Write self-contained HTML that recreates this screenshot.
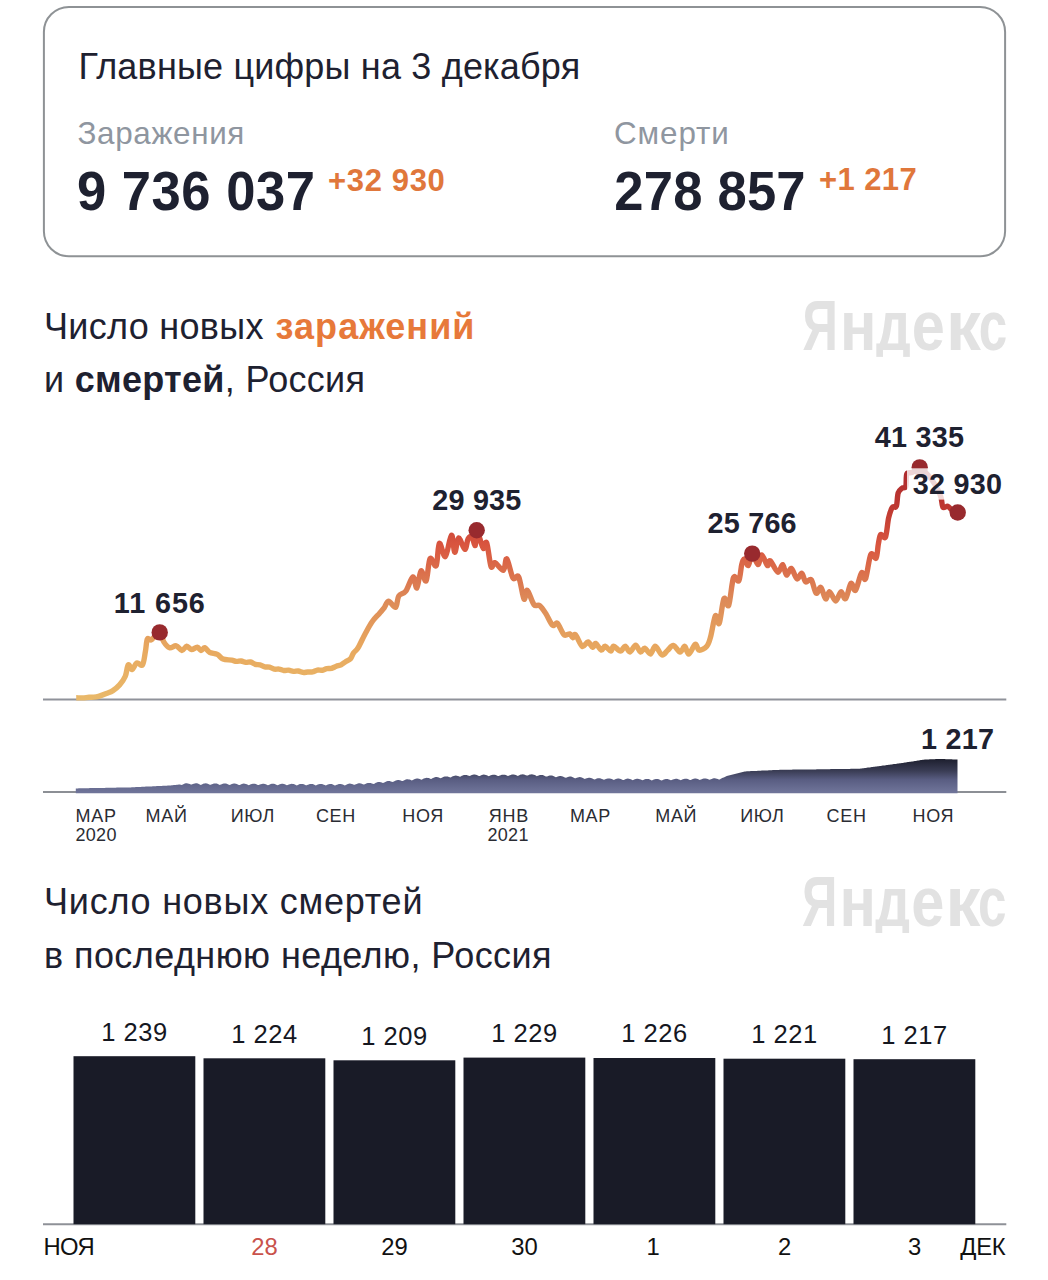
<!DOCTYPE html><html><head><meta charset="utf-8"><style>html,body{margin:0;padding:0;background:#fff;width:1048px;height:1280px;overflow:hidden}svg{display:block}</style></head><body><svg width="1048" height="1280" viewBox="0 0 1048 1280" font-family='"Liberation Sans", sans-serif'>
<defs>
<linearGradient id="lg" gradientUnits="userSpaceOnUse" x1="0" y1="700" x2="0" y2="460">
<stop offset="0" stop-color="#e9b96a"/>
<stop offset="0.208" stop-color="#e8a95f"/>
<stop offset="0.417" stop-color="#dd8a58"/>
<stop offset="0.646" stop-color="#d9553f"/>
<stop offset="0.79" stop-color="#c03a32"/>
<stop offset="1" stop-color="#a8252b"/>
</linearGradient>
<linearGradient id="ag" gradientUnits="userSpaceOnUse" x1="0" y1="757" x2="0" y2="792">
<stop offset="0" stop-color="#181a28"/>
<stop offset="0.4" stop-color="#3a3d55"/>
<stop offset="0.65" stop-color="#595d82"/>
<stop offset="1" stop-color="#6f7499"/>
</linearGradient>
</defs>
<rect width="1048" height="1280" fill="#fff"/>
<rect x="43.9" y="6.9" width="961.2" height="249.4" rx="25" ry="25" fill="#fff" stroke="#8e9295" stroke-width="2"/>
<text x="78.5" y="79" font-size="36" fill="#1e2130" letter-spacing="0.19">Главные цифры на 3 декабря</text>
<text x="77.5" y="144.4" font-size="31.4" fill="#8f96a0" letter-spacing="0.65">Заражения</text>
<text x="0" y="0" transform="translate(77,209.6) scale(1,1.047)" font-size="52.6" font-weight="700" fill="#1e2130" letter-spacing="0.5">9 736 037</text>
<text x="328" y="190.8" font-size="31" font-weight="700" fill="#e0773b" letter-spacing="0.65">+32 930</text>
<text x="614" y="144.4" font-size="31.4" fill="#8f96a0" letter-spacing="0.9">Смерти</text>
<text x="0" y="0" transform="translate(614.3,209.5) scale(1,1.047)" font-size="52.6" font-weight="700" fill="#1e2130" letter-spacing="0.2">278 857</text>
<text x="819" y="190.3" font-size="31" font-weight="700" fill="#e0773b" letter-spacing="0.4">+1 217</text>
<text x="44" y="338.6" font-size="36" fill="#1e2130" letter-spacing="0.3">Число новых <tspan font-weight="700" fill="#e7793a" letter-spacing="1.05" dx="1.5">заражений</tspan></text>
<text x="44" y="392.1" font-size="36" fill="#1e2130" letter-spacing="0.3">и <tspan font-weight="700">смертей</tspan>, Россия</text>
<g fill="#e2e2e2" font-size="70" font-weight="700">
<text x="0" y="0" text-anchor="middle" transform="translate(820.2,349.7) scale(0.703,1)">Я</text>
<text x="0" y="0" text-anchor="middle" transform="translate(858.3,349.7) scale(0.863,1)">н</text>
<text x="0" y="0" text-anchor="middle" transform="translate(893.3,349.7) scale(0.784,1)">д</text>
<text x="0" y="0" text-anchor="middle" transform="translate(928.3,349.7) scale(0.85,1)">е</text>
<text x="0" y="0" text-anchor="middle" transform="translate(963.5,349.7) scale(0.997,1)">к</text>
<text x="0" y="0" text-anchor="middle" transform="translate(992.9,349.7) scale(0.731,1)">с</text>
</g>
<rect x="870" y="356.9" width="45" height="12" fill="#fff"/>
<line x1="43" y1="699.5" x2="1006.3" y2="699.5" stroke="#8f929a" stroke-width="2"/>
<path d="M76.2,697.8 C77.3,697.8 80.5,697.9 82.7,697.9 C84.8,697.8 87.2,697.4 89.1,697.3 C91.0,697.2 92.3,697.3 93.8,697.1 C95.4,697.0 96.5,696.9 98.6,696.3 C100.7,695.7 103.9,694.5 106.3,693.5 C108.7,692.5 110.7,692.0 112.9,690.6 C115.1,689.2 117.5,687.3 119.6,684.9 C121.7,682.5 123.9,679.6 125.3,676.3 C126.7,672.9 127.1,665.9 128.2,664.8 C129.3,663.7 130.6,669.9 132.0,669.6 C133.4,669.3 135.1,663.7 136.8,662.9 C138.6,662.1 141.1,666.7 142.5,664.8 C143.9,662.9 144.6,655.8 145.4,651.5 C146.2,647.2 146.4,641.0 147.3,639.1 C148.2,637.2 150.0,640.3 151.1,640.0 C152.2,639.7 152.6,638.4 154.0,637.2 C155.4,636.0 158.1,631.8 159.7,632.6 C161.3,633.4 162.2,639.4 163.8,641.9 C165.4,644.4 167.4,647.1 169.5,647.7 C171.6,648.4 174.1,645.3 176.2,645.8 C178.3,646.3 180.2,650.4 181.9,650.5 C183.7,650.6 185.1,646.4 186.7,646.2 C188.3,646.1 189.8,649.4 191.5,649.6 C193.2,649.8 195.6,647.1 197.2,647.2 C198.8,647.4 199.7,650.4 201.0,650.5 C202.3,650.6 203.4,647.4 204.8,647.7 C206.2,648.0 207.5,651.3 209.6,652.4 C211.7,653.5 215.1,653.3 217.3,654.4 C219.5,655.5 220.6,658.1 223.0,659.1 C225.4,660.1 229.4,659.7 231.6,660.1 C233.8,660.5 234.8,661.3 236.3,661.4 C237.9,661.6 239.5,660.8 241.1,661.0 C242.7,661.2 244.3,662.2 245.8,662.4 C247.4,662.6 249.0,661.7 250.6,662.0 C252.2,662.3 253.7,663.8 255.3,664.3 C256.9,664.8 258.4,664.4 260.0,664.8 C261.6,665.2 263.2,666.5 264.8,666.9 C266.3,667.3 267.9,666.8 269.5,667.2 C271.1,667.6 272.7,668.7 274.3,669.1 C275.9,669.4 277.5,668.9 279.1,669.1 C280.7,669.3 282.3,670.3 283.9,670.5 C285.4,670.7 287.0,669.9 288.6,670.1 C290.2,670.3 291.8,671.3 293.4,671.4 C295.0,671.6 296.6,670.8 298.2,671.0 C299.8,671.2 301.4,672.2 302.9,672.4 C304.5,672.6 306.1,672.1 307.7,672.0 C309.3,671.9 310.9,672.3 312.5,671.9 C314.1,671.6 315.7,670.4 317.3,670.1 C318.9,669.8 320.5,670.5 322.1,670.2 C323.6,670.0 325.2,668.9 326.8,668.6 C328.4,668.3 330.0,668.7 331.6,668.4 C333.1,668.0 334.7,666.9 336.3,666.3 C337.9,665.7 339.5,665.6 341.1,664.8 C342.7,664.0 344.3,662.5 345.9,661.5 C347.5,660.5 349.3,660.0 350.6,658.6 C351.9,657.2 352.3,654.7 353.5,652.9 C354.7,651.1 356.1,651.1 358.0,647.9 C359.9,644.7 362.8,638.1 365.2,633.7 C367.6,629.3 369.9,624.9 372.3,621.5 C374.7,618.1 377.5,615.6 379.4,613.4 C381.3,611.2 382.4,610.2 383.9,608.2 C385.5,606.2 386.6,601.4 388.5,601.2 C390.4,601.1 393.9,608.1 395.6,607.3 C397.3,606.4 397.0,598.8 398.7,596.1 C400.4,593.4 403.4,594.3 405.8,591.1 C408.2,587.9 411.0,577.4 412.9,576.9 C414.8,576.4 415.5,589.0 416.9,588.0 C418.2,587.0 419.5,572.0 421.0,570.8 C422.5,569.6 424.6,582.9 426.1,580.9 C427.6,578.9 428.4,561.1 430.1,558.6 C431.8,556.1 434.7,568.2 436.2,565.7 C437.7,563.2 437.8,544.9 439.3,543.4 C440.8,541.9 443.4,557.9 445.4,556.5 C447.4,555.1 449.8,535.9 451.4,535.2 C453.0,534.5 453.6,551.8 454.8,552.2 C456.0,552.7 456.9,538.4 458.6,537.9 C460.3,537.4 463.2,549.2 464.8,549.4 C466.4,549.6 466.9,541.0 468.1,538.9 C469.3,536.8 470.7,535.9 471.9,537.0 C473.1,538.1 474.5,546.5 475.3,545.5 C476.1,544.5 476.0,532.3 476.7,531.0 C477.4,529.7 478.5,535.0 479.6,537.9 C480.7,540.8 482.2,547.6 483.4,548.4 C484.6,549.2 485.4,539.7 486.7,542.7 C488.0,545.7 489.6,563.2 491.0,566.5 C492.4,569.8 492.7,562.1 494.8,562.7 C496.9,563.3 501.4,570.9 503.4,570.3 C505.4,569.7 505.2,557.6 506.8,558.9 C508.4,560.2 511.0,575.0 513.0,578.0 C515.0,581.0 516.9,573.5 518.7,577.0 C520.5,580.5 522.6,596.8 524.0,599.0 C525.4,601.2 525.6,589.4 527.3,590.4 C529.0,591.4 531.9,602.2 534.0,604.7 C536.1,607.2 537.7,604.1 539.7,605.6 C541.7,607.1 543.9,610.6 546.0,613.9 C548.1,617.2 550.7,623.7 552.6,625.3 C554.5,626.9 555.5,621.8 557.4,623.4 C559.3,625.0 562.0,633.0 564.1,634.8 C566.2,636.5 568.4,633.4 569.8,633.9 C571.2,634.4 571.8,637.6 572.7,637.7 C573.7,637.9 573.9,633.4 575.5,634.8 C577.1,636.2 580.1,645.1 582.2,646.3 C584.3,647.5 586.2,641.8 588.0,642.0 C589.8,642.2 591.4,647.1 592.7,647.3 C594.0,647.5 594.2,642.9 595.6,643.4 C597.0,643.9 599.7,649.6 601.3,650.1 C602.9,650.6 603.5,646.1 605.1,646.3 C606.7,646.5 609.4,651.1 610.8,651.1 C612.2,651.1 612.1,646.3 613.7,646.3 C615.3,646.3 618.5,651.1 620.4,651.1 C622.3,651.1 623.6,646.1 625.2,646.3 C626.8,646.4 628.2,652.2 629.9,652.0 C631.6,651.8 633.9,645.3 635.6,645.3 C637.4,645.3 638.9,651.5 640.4,652.0 C641.9,652.5 643.1,647.9 644.8,648.2 C646.5,648.5 648.8,654.3 650.5,654.0 C652.2,653.7 653.4,646.1 655.3,646.3 C657.2,646.4 659.9,654.2 662.0,654.9 C664.1,655.5 665.8,651.8 667.7,650.2 C669.6,648.6 671.3,645.1 673.4,645.4 C675.5,645.7 678.2,652.0 680.1,652.1 C682.0,652.2 683.4,646.0 684.8,646.3 C686.2,646.6 687.0,654.3 688.7,654.0 C690.5,653.7 693.5,645.0 695.3,644.4 C697.0,643.8 697.3,649.9 699.2,650.2 C701.1,650.5 704.9,648.5 706.8,646.3 C708.7,644.1 709.2,641.9 710.6,636.8 C712.0,631.7 714.0,618.0 715.4,615.8 C716.8,613.6 717.8,626.3 719.2,623.4 C720.6,620.5 722.4,601.6 724.0,598.6 C725.6,595.6 727.1,608.8 728.7,605.3 C730.3,601.8 731.8,581.7 733.5,577.6 C735.2,573.5 737.4,583.0 738.8,580.8 C740.2,578.6 740.8,568.2 741.7,564.6 C742.7,561.0 743.4,558.8 744.5,558.9 C745.6,559.0 747.1,566.4 748.4,565.5 C749.7,564.6 750.6,553.8 752.2,553.6 C753.8,553.5 756.3,564.4 757.9,564.6 C759.5,564.8 760.1,554.9 761.7,555.0 C763.3,555.1 766.0,564.5 767.4,565.5 C768.8,566.5 768.5,559.7 770.3,560.8 C772.0,561.9 775.8,571.6 777.9,572.2 C780.0,572.8 781.3,564.1 782.7,564.6 C784.1,565.1 785.1,574.5 786.5,575.1 C787.9,575.7 789.5,567.8 791.3,568.4 C793.0,569.0 795.2,578.1 797.0,578.9 C798.8,579.7 800.4,572.7 801.8,573.2 C803.2,573.7 804.0,580.7 805.6,581.8 C807.2,582.9 809.5,577.9 811.3,579.8 C813.0,581.7 814.5,591.9 816.1,593.2 C817.7,594.5 819.3,586.5 820.9,587.5 C822.5,588.5 824.1,598.2 825.6,598.9 C827.1,599.6 827.9,591.4 829.6,591.8 C831.3,592.1 833.8,601.0 835.7,601.0 C837.6,601.0 839.4,592.2 841.0,591.8 C842.6,591.4 843.9,600.1 845.6,598.7 C847.3,597.3 849.4,584.8 851.0,583.4 C852.6,582.0 853.7,592.1 855.5,590.3 C857.3,588.5 859.9,574.6 861.6,572.7 C863.3,570.8 864.0,582.0 865.5,578.9 C867.0,575.8 869.0,557.8 870.8,554.4 C872.6,551.0 874.8,560.0 876.1,558.2 C877.4,556.4 877.6,547.6 878.4,543.7 C879.2,539.8 879.5,535.7 880.7,534.6 C881.9,533.5 884.2,539.8 885.5,537.0 C886.8,534.2 887.5,523.0 888.6,518.0 C889.8,513.0 891.1,509.2 892.4,507.3 C893.7,505.4 895.3,508.7 896.3,506.3 C897.3,503.9 897.2,495.9 898.2,492.9 C899.2,489.9 900.7,489.3 902.0,488.2 C903.3,487.1 905.0,488.7 905.8,486.3 C906.6,483.9 905.8,476.3 906.8,474.0 C907.8,471.7 909.9,473.4 912.0,472.5 C914.1,471.6 917.4,468.4 919.7,468.5 C922.0,468.6 924.0,471.1 926.0,473.0 C928.0,474.9 930.0,477.2 932.0,480.0 C934.0,482.8 936.5,487.1 938.0,490.0 C939.5,492.9 940.3,494.8 941.1,497.7 C941.9,500.6 941.9,505.9 943.0,507.3 C944.1,508.7 946.3,505.9 947.8,506.3 C949.3,506.8 950.4,509.0 952.0,510.0 C953.6,511.0 956.8,512.1 957.7,512.5" fill="none" stroke="url(#lg)" stroke-width="5.4" stroke-linejoin="round" stroke-linecap="butt"/>
<circle cx="159.7" cy="632.4" r="8.2" fill="#982a2e"/>
<circle cx="476.7" cy="530.3" r="8.2" fill="#982a2e"/>
<circle cx="752.2" cy="553.6" r="8.2" fill="#982a2e"/>
<circle cx="919.7" cy="467.4" r="8.2" fill="#982a2e"/>
<circle cx="957.7" cy="512.5" r="8.2" fill="#982a2e"/>
<text x="159.8" y="612.6" font-size="28.8" font-weight="700" fill="#1e2130" text-anchor="middle" letter-spacing="0.9">11 656</text>
<text x="476.9" y="510.3" font-size="28.8" font-weight="700" fill="#1e2130" text-anchor="middle" letter-spacing="0.2">29 935</text>
<text x="752.2" y="533.4" font-size="28.8" font-weight="700" fill="#1e2130" text-anchor="middle" letter-spacing="0.2">25 766</text>
<text x="919.5" y="447.2" font-size="28.8" font-weight="700" fill="#1e2130" text-anchor="middle" letter-spacing="0.2">41 335</text>
<rect x="907" y="468.3" width="96" height="31.3" fill="#fff" fill-opacity="0.8"/>
<text x="957.5" y="493.7" font-size="28.8" font-weight="700" fill="#1e2130" text-anchor="middle" letter-spacing="0.2">32 930</text>
<line x1="43" y1="791.9" x2="1006.3" y2="791.9" stroke="#8c8f95" stroke-width="2"/>
<path d="M75.8,793.2 L75.8,788.4 L76.8,788.4 L77.8,788.4 L78.8,788.3 L79.8,788.3 L80.8,788.3 L81.8,788.3 L82.8,788.3 L83.8,788.3 L84.8,788.2 L85.8,788.2 L86.8,788.2 L87.8,788.2 L88.8,788.2 L89.8,788.1 L90.8,788.1 L91.8,788.1 L92.8,788.1 L93.8,788.1 L94.8,788.0 L95.8,788.0 L96.8,788.0 L97.8,788.0 L98.8,788.0 L99.8,788.0 L100.8,787.9 L101.8,787.9 L102.8,787.9 L103.8,787.9 L104.8,787.9 L105.8,787.8 L106.8,787.8 L107.8,787.8 L108.8,787.8 L109.8,787.8 L110.8,787.8 L111.8,787.7 L112.8,787.7 L113.8,787.7 L114.8,787.7 L115.8,787.7 L116.8,787.6 L117.8,787.6 L118.8,787.6 L119.8,787.6 L120.8,787.6 L121.8,787.6 L122.8,787.5 L123.8,787.5 L124.8,787.5 L125.8,787.5 L126.8,787.5 L127.8,787.4 L128.8,787.4 L129.8,787.4 L130.8,787.4 L131.8,787.3 L132.8,787.3 L133.8,787.2 L134.8,787.2 L135.8,787.1 L136.8,787.1 L137.8,787.0 L138.8,787.0 L139.8,786.9 L140.8,786.9 L141.8,786.8 L142.8,786.8 L143.8,786.7 L144.8,786.7 L145.8,786.6 L146.8,786.6 L147.8,786.6 L148.8,786.5 L149.8,786.5 L150.8,786.4 L151.8,786.4 L152.8,786.3 L153.8,786.3 L154.8,786.2 L155.8,786.2 L156.8,786.1 L157.8,786.1 L158.8,786.0 L159.8,786.0 L160.8,785.9 L161.8,785.9 L162.8,785.8 L163.8,785.8 L164.8,785.7 L165.8,785.7 L166.8,785.7 L167.8,785.6 L168.8,785.6 L169.8,785.5 L170.8,785.4 L171.8,785.3 L172.8,785.2 L173.8,785.1 L174.8,785.0 L175.8,784.9 L176.8,784.8 L177.8,784.7 L178.8,784.6 L179.8,784.5 L180.8,784.8 L181.8,785.0 L182.8,784.4 L183.8,783.9 L184.8,783.4 L185.8,783.2 L186.8,783.2 L187.8,783.4 L188.8,783.7 L189.8,784.1 L190.8,784.6 L191.8,784.5 L192.8,784.1 L193.8,783.7 L194.8,783.4 L195.8,783.3 L196.8,783.3 L197.8,783.6 L198.8,783.9 L199.8,784.4 L200.8,784.9 L201.8,784.4 L202.8,783.9 L203.8,783.6 L204.8,783.4 L205.8,783.3 L206.8,783.5 L207.8,783.7 L208.8,784.2 L209.8,784.7 L210.8,784.8 L211.8,784.3 L212.8,783.9 L213.8,783.6 L214.8,783.4 L215.8,783.4 L216.8,783.6 L217.8,784.0 L218.8,784.4 L219.8,784.9 L220.8,784.6 L221.8,784.2 L222.8,783.8 L223.8,783.5 L224.8,783.5 L225.8,783.6 L226.8,783.8 L227.8,784.2 L228.8,784.7 L229.8,785.0 L230.8,784.5 L231.8,784.1 L232.8,783.7 L233.8,783.6 L234.8,783.5 L235.8,783.7 L236.8,784.0 L237.8,784.4 L238.8,784.9 L239.8,784.9 L240.8,784.4 L241.8,784.0 L242.8,783.7 L243.8,783.6 L244.8,783.7 L245.8,783.9 L246.8,784.2 L247.8,784.7 L248.8,785.2 L249.8,784.7 L250.8,784.3 L251.8,783.9 L252.8,783.7 L253.8,783.7 L254.8,783.8 L255.8,784.1 L256.8,784.5 L257.8,785.0 L258.8,785.1 L259.8,784.6 L260.8,784.2 L261.8,783.9 L262.8,783.7 L263.8,783.7 L264.8,783.9 L265.8,784.3 L266.8,784.7 L267.8,785.2 L268.8,784.9 L269.8,784.4 L270.8,784.1 L271.8,783.8 L272.8,783.7 L273.8,783.8 L274.8,784.1 L275.8,784.5 L276.8,784.9 L277.8,785.3 L278.8,784.8 L279.8,784.3 L280.8,784.0 L281.8,783.8 L282.8,783.8 L283.8,784.0 L284.8,784.3 L285.8,784.7 L286.8,785.2 L287.8,785.1 L288.8,784.6 L289.8,784.2 L290.8,783.9 L291.8,783.8 L292.8,783.9 L293.8,784.1 L294.8,784.5 L295.8,784.9 L296.8,785.4 L297.8,784.9 L298.8,784.5 L299.8,784.1 L300.8,783.9 L301.8,783.9 L302.8,784.0 L303.8,784.3 L304.8,784.7 L305.8,785.2 L306.8,785.3 L307.8,784.8 L308.8,784.4 L309.8,784.1 L310.8,783.9 L311.8,783.9 L312.8,784.1 L313.8,784.4 L314.8,784.9 L315.8,785.4 L316.8,785.1 L317.8,784.6 L318.8,784.3 L319.8,784.0 L320.8,783.9 L321.8,784.0 L322.8,784.3 L323.8,784.7 L324.8,785.1 L325.8,785.4 L326.8,784.9 L327.8,784.5 L328.8,784.2 L329.8,784.0 L330.8,784.0 L331.8,784.1 L332.8,784.4 L333.8,784.9 L334.8,785.4 L335.8,785.3 L336.8,784.8 L337.8,784.4 L338.8,784.1 L339.8,784.0 L340.8,784.0 L341.8,784.2 L342.8,784.5 L343.8,784.9 L344.8,785.4 L345.8,784.9 L346.8,784.4 L347.8,784.0 L348.8,783.7 L349.8,783.6 L350.8,783.7 L351.8,784.0 L352.8,784.3 L353.8,784.8 L354.8,784.8 L355.8,784.3 L356.8,783.9 L357.8,783.5 L358.8,783.3 L359.8,783.3 L360.8,783.5 L361.8,783.7 L362.8,784.2 L363.8,784.6 L364.8,784.3 L365.8,783.8 L366.8,783.3 L367.8,783.1 L368.8,782.9 L369.8,783.0 L370.8,783.1 L371.8,783.4 L372.8,783.8 L373.8,784.0 L374.8,783.4 L375.8,782.8 L376.8,782.4 L377.8,782.1 L378.8,782.0 L379.8,782.1 L380.8,782.3 L381.8,782.6 L382.8,783.0 L383.8,782.8 L384.8,782.2 L385.8,781.7 L386.8,781.3 L387.8,781.1 L388.8,781.0 L389.8,781.1 L390.8,781.4 L391.8,781.7 L392.8,782.1 L393.8,781.5 L394.8,781.0 L395.8,780.5 L396.8,780.2 L397.8,780.0 L398.8,780.0 L399.8,780.2 L400.8,780.5 L401.8,781.0 L402.8,781.0 L403.8,780.4 L404.8,779.9 L405.8,779.5 L406.8,779.3 L407.8,779.2 L408.8,779.4 L409.8,779.6 L410.8,780.0 L411.8,780.4 L412.8,780.0 L413.8,779.5 L414.8,779.0 L415.8,778.7 L416.8,778.5 L417.8,778.5 L418.8,778.7 L419.8,779.0 L420.8,779.4 L421.8,779.7 L422.8,779.1 L423.8,778.6 L424.8,778.2 L425.8,777.9 L426.8,777.8 L427.8,777.9 L428.8,778.1 L429.8,778.5 L430.8,778.9 L431.8,778.7 L432.8,778.1 L433.8,777.7 L434.8,777.3 L435.8,777.1 L436.8,777.1 L437.8,777.2 L438.8,777.5 L439.8,777.9 L440.8,778.3 L441.8,777.7 L442.8,777.2 L443.8,776.8 L444.8,776.5 L445.8,776.4 L446.8,776.4 L447.8,776.6 L448.8,776.9 L449.8,777.3 L450.8,777.4 L451.8,776.8 L452.8,776.3 L453.8,775.9 L454.8,775.7 L455.8,775.6 L456.8,775.7 L457.8,776.0 L458.8,776.3 L459.8,776.8 L460.8,776.4 L461.8,775.8 L462.8,775.4 L463.8,775.1 L464.8,774.9 L465.8,774.9 L466.8,775.1 L467.8,775.4 L468.8,775.8 L469.8,776.0 L470.8,775.5 L471.8,775.1 L472.8,774.7 L473.8,774.6 L474.8,774.5 L475.8,774.7 L476.8,775.0 L477.8,775.4 L478.8,775.9 L479.8,775.9 L480.8,775.4 L481.8,775.0 L482.8,774.7 L483.8,774.6 L484.8,774.7 L485.8,774.9 L486.8,775.2 L487.8,775.7 L488.8,776.2 L489.8,775.7 L490.8,775.3 L491.8,774.9 L492.8,774.7 L493.8,774.7 L494.8,774.8 L495.8,775.1 L496.8,775.5 L497.8,776.0 L498.8,776.1 L499.8,775.6 L500.8,775.2 L501.8,774.8 L502.8,774.7 L503.8,774.7 L504.8,774.8 L505.8,775.1 L506.8,775.6 L507.8,776.1 L508.8,775.7 L509.8,775.2 L510.8,774.9 L511.8,774.6 L512.8,774.5 L513.8,774.6 L514.8,774.8 L515.8,775.1 L516.8,775.6 L517.8,775.9 L518.8,775.4 L519.8,774.9 L520.8,774.6 L521.8,774.4 L522.8,774.3 L523.8,774.5 L524.8,774.8 L525.8,775.2 L526.8,775.6 L527.8,775.5 L528.8,775.0 L529.8,774.6 L530.8,774.4 L531.8,774.3 L532.8,774.4 L533.8,774.7 L534.8,775.1 L535.8,775.6 L536.8,776.2 L537.8,775.8 L538.8,775.4 L539.8,775.1 L540.8,774.9 L541.8,774.9 L542.8,775.1 L543.8,775.4 L544.8,775.9 L545.8,776.4 L546.8,776.6 L547.8,776.2 L548.8,775.8 L549.8,775.6 L550.8,775.5 L551.8,775.5 L552.8,775.8 L553.8,776.2 L554.8,776.7 L555.8,777.2 L556.8,777.0 L557.8,776.6 L558.8,776.3 L559.8,776.1 L560.8,776.0 L561.8,776.2 L562.8,776.5 L563.8,776.9 L564.8,777.5 L565.8,777.8 L566.8,777.4 L567.8,777.0 L568.8,776.7 L569.8,776.6 L570.8,776.6 L571.8,776.8 L572.8,777.2 L573.8,777.7 L574.8,778.2 L575.8,778.2 L576.8,777.8 L577.8,777.4 L578.8,777.2 L579.8,777.1 L580.8,777.3 L581.8,777.5 L582.8,777.9 L583.8,778.5 L584.8,779.0 L585.8,778.6 L586.8,778.2 L587.8,777.9 L588.8,777.7 L589.8,777.7 L590.8,777.9 L591.8,778.2 L592.8,778.7 L593.8,779.2 L594.8,779.4 L595.8,779.0 L596.8,778.6 L597.8,778.3 L598.8,778.2 L599.8,778.3 L600.8,778.5 L601.8,778.9 L602.8,779.3 L603.8,779.8 L604.8,779.5 L605.8,779.1 L606.8,778.7 L607.8,778.5 L608.8,778.4 L609.8,778.5 L610.8,778.8 L611.8,779.1 L612.8,779.6 L613.8,780.0 L614.8,779.5 L615.8,779.0 L616.8,778.7 L617.8,778.5 L618.8,778.5 L619.8,778.7 L620.8,779.0 L621.8,779.4 L622.8,780.0 L623.8,779.9 L624.8,779.4 L625.8,779.0 L626.8,778.7 L627.8,778.6 L628.8,778.7 L629.8,778.9 L630.8,779.3 L631.8,779.8 L632.8,780.3 L633.8,779.8 L634.8,779.3 L635.8,779.0 L636.8,778.8 L637.8,778.7 L638.8,778.9 L639.8,779.2 L640.8,779.6 L641.8,780.1 L642.8,780.2 L643.8,779.7 L644.8,779.3 L645.8,779.0 L646.8,778.9 L647.8,778.9 L648.8,779.1 L649.8,779.4 L650.8,779.9 L651.8,780.4 L652.8,780.1 L653.8,779.6 L654.8,779.3 L655.8,779.0 L656.8,779.0 L657.8,779.1 L658.8,779.3 L659.8,779.7 L660.8,780.2 L661.8,780.5 L662.8,780.0 L663.8,779.5 L664.8,779.2 L665.8,779.0 L666.8,778.9 L667.8,779.1 L668.8,779.4 L669.8,779.8 L670.8,780.2 L671.8,780.1 L672.8,779.6 L673.8,779.2 L674.8,778.9 L675.8,778.8 L676.8,778.8 L677.8,779.0 L678.8,779.4 L679.8,779.8 L680.8,780.3 L681.8,779.8 L682.8,779.3 L683.8,779.0 L684.8,778.7 L685.8,778.7 L686.8,778.8 L687.8,779.0 L688.8,779.4 L689.8,779.9 L690.8,780.0 L691.8,779.5 L692.8,779.0 L693.8,778.7 L694.8,778.5 L695.8,778.6 L696.8,778.7 L697.8,779.0 L698.8,779.5 L699.8,780.0 L700.8,779.6 L701.8,779.2 L702.8,778.8 L703.8,778.5 L704.8,778.4 L705.8,778.5 L706.8,778.7 L707.8,779.1 L708.8,779.5 L709.8,779.8 L710.8,779.3 L711.8,778.9 L712.8,778.5 L713.8,778.3 L714.8,778.3 L715.8,778.4 L716.8,778.7 L717.8,779.1 L718.8,779.6 L719.8,779.5 L720.8,778.7 L721.8,778.2 L722.8,777.8 L723.8,777.4 L724.8,776.9 L725.8,776.5 L726.8,776.1 L727.8,775.8 L728.8,775.5 L729.8,775.3 L730.8,775.0 L731.8,774.8 L732.8,774.5 L733.8,774.3 L734.8,774.0 L735.8,773.8 L736.8,773.5 L737.8,773.2 L738.8,773.0 L739.8,772.7 L740.8,772.5 L741.8,772.2 L742.8,772.0 L743.8,771.7 L744.8,771.5 L745.8,771.4 L746.8,771.3 L747.8,771.3 L748.8,771.2 L749.8,771.2 L750.8,771.1 L751.8,771.1 L752.8,771.0 L753.8,771.0 L754.8,771.0 L755.8,770.9 L756.8,770.9 L757.8,770.8 L758.8,770.8 L759.8,770.7 L760.8,770.7 L761.8,770.6 L762.8,770.6 L763.8,770.5 L764.8,770.5 L765.8,770.4 L766.8,770.4 L767.8,770.4 L768.8,770.3 L769.8,770.3 L770.8,770.2 L771.8,770.2 L772.8,770.1 L773.8,770.1 L774.8,770.0 L775.8,770.0 L776.8,769.9 L777.8,769.9 L778.8,769.9 L779.8,769.8 L780.8,769.8 L781.8,769.8 L782.8,769.8 L783.8,769.8 L784.8,769.7 L785.8,769.7 L786.8,769.7 L787.8,769.7 L788.8,769.7 L789.8,769.7 L790.8,769.7 L791.8,769.7 L792.8,769.6 L793.8,769.6 L794.8,769.6 L795.8,769.6 L796.8,769.6 L797.8,769.6 L798.8,769.6 L799.8,769.6 L800.8,769.5 L801.8,769.5 L802.8,769.5 L803.8,769.5 L804.8,769.5 L805.8,769.5 L806.8,769.5 L807.8,769.5 L808.8,769.4 L809.8,769.4 L810.8,769.4 L811.8,769.4 L812.8,769.4 L813.8,769.4 L814.8,769.4 L815.8,769.4 L816.8,769.3 L817.8,769.3 L818.8,769.3 L819.8,769.3 L820.8,769.3 L821.8,769.3 L822.8,769.3 L823.8,769.2 L824.8,769.2 L825.8,769.2 L826.8,769.2 L827.8,769.2 L828.8,769.2 L829.8,769.2 L830.8,769.1 L831.8,769.1 L832.8,769.1 L833.8,769.1 L834.8,769.1 L835.8,769.1 L836.8,769.0 L837.8,769.0 L838.8,769.0 L839.8,769.0 L840.8,769.0 L841.8,769.0 L842.8,769.0 L843.8,768.9 L844.8,768.9 L845.8,768.9 L846.8,768.9 L847.8,768.9 L848.8,768.9 L849.8,768.9 L850.8,768.8 L851.8,768.8 L852.8,768.8 L853.8,768.8 L854.8,768.8 L855.8,768.8 L856.8,768.7 L857.8,768.7 L858.8,768.7 L859.8,768.7 L860.8,768.6 L861.8,768.5 L862.8,768.3 L863.8,768.2 L864.8,768.1 L865.8,767.9 L866.8,767.8 L867.8,767.6 L868.8,767.5 L869.8,767.4 L870.8,767.2 L871.8,767.1 L872.8,767.0 L873.8,766.8 L874.8,766.7 L875.8,766.6 L876.8,766.4 L877.8,766.3 L878.8,766.2 L879.8,766.0 L880.8,765.9 L881.8,765.8 L882.8,765.6 L883.8,765.5 L884.8,765.4 L885.8,765.2 L886.8,765.1 L887.8,764.9 L888.8,764.8 L889.8,764.7 L890.8,764.5 L891.8,764.4 L892.8,764.3 L893.8,764.1 L894.8,764.0 L895.8,763.9 L896.8,763.7 L897.8,763.6 L898.8,763.5 L899.8,763.3 L900.8,763.2 L901.8,763.0 L902.8,762.9 L903.8,762.7 L904.8,762.6 L905.8,762.4 L906.8,762.3 L907.8,762.1 L908.8,762.0 L909.8,761.8 L910.8,761.7 L911.8,761.5 L912.8,761.4 L913.8,761.2 L914.8,761.1 L915.8,760.9 L916.8,760.7 L917.8,760.6 L918.8,760.4 L919.8,760.3 L920.8,760.1 L921.8,760.0 L922.8,759.8 L923.8,759.7 L924.8,759.5 L925.8,759.5 L926.8,759.4 L927.8,759.4 L928.8,759.4 L929.8,759.3 L930.8,759.3 L931.8,759.3 L932.8,759.2 L933.8,759.2 L934.8,759.2 L935.8,759.1 L936.8,759.1 L937.8,759.1 L938.8,759.0 L939.8,759.0 L940.8,759.0 L941.8,759.1 L942.8,759.1 L943.8,759.1 L944.8,759.1 L945.8,759.2 L946.8,759.2 L947.8,759.2 L948.8,759.3 L949.8,759.3 L950.8,759.3 L951.8,759.3 L952.8,759.4 L953.8,759.4 L954.8,759.4 L955.8,759.5 L956.8,759.5 L957.5,759.5 L957.5,793.2 Z" fill="url(#ag)"/>
<text x="957.6" y="748.8" font-size="28.8" font-weight="700" fill="#1e2130" text-anchor="middle" letter-spacing="0.2">1 217</text>
<text x="75.5" y="821.8" font-size="18" fill="#2a2c33" letter-spacing="0.7">МАР</text>
<text x="145.6" y="821.8" font-size="18" fill="#2a2c33" letter-spacing="0.7">МАЙ</text>
<text x="230.7" y="821.8" font-size="18" fill="#2a2c33" letter-spacing="0.7">ИЮЛ</text>
<text x="315.9" y="821.8" font-size="18" fill="#2a2c33" letter-spacing="0.7">СЕН</text>
<text x="402.2" y="821.8" font-size="18" fill="#2a2c33" letter-spacing="0.7">НОЯ</text>
<text x="488.8" y="821.8" font-size="18" fill="#2a2c33" letter-spacing="0.7">ЯНВ</text>
<text x="569.9" y="821.8" font-size="18" fill="#2a2c33" letter-spacing="0.7">МАР</text>
<text x="655.2" y="821.8" font-size="18" fill="#2a2c33" letter-spacing="0.7">МАЙ</text>
<text x="740.2" y="821.8" font-size="18" fill="#2a2c33" letter-spacing="0.7">ИЮЛ</text>
<text x="826.5" y="821.8" font-size="18" fill="#2a2c33" letter-spacing="0.7">СЕН</text>
<text x="912.5" y="821.8" font-size="18" fill="#2a2c33" letter-spacing="0.7">НОЯ</text>
<text x="75.5" y="840.8" font-size="18" fill="#2a2c33" letter-spacing="0.3">2020</text>
<text x="487.5" y="840.8" font-size="18" fill="#2a2c33" letter-spacing="0.3">2021</text>
<text x="44" y="914.4" font-size="36" fill="#1e2130" letter-spacing="0.77">Число новых смертей</text>
<text x="44" y="968.2" font-size="36" fill="#1e2130" letter-spacing="0.43">в последнюю неделю, Россия</text>
<g fill="#e2e2e2" font-size="70" font-weight="700">
<text x="0" y="0" text-anchor="middle" transform="translate(819.6,925.8) scale(0.703,1)">Я</text>
<text x="0" y="0" text-anchor="middle" transform="translate(857.6999999999999,925.8) scale(0.863,1)">н</text>
<text x="0" y="0" text-anchor="middle" transform="translate(892.6999999999999,925.8) scale(0.784,1)">д</text>
<text x="0" y="0" text-anchor="middle" transform="translate(927.6999999999999,925.8) scale(0.85,1)">е</text>
<text x="0" y="0" text-anchor="middle" transform="translate(962.9,925.8) scale(0.997,1)">к</text>
<text x="0" y="0" text-anchor="middle" transform="translate(992.3,925.8) scale(0.731,1)">с</text>
</g>
<rect x="870" y="933.0" width="45" height="12" fill="#fff"/>
<line x1="43" y1="1224.2" x2="1006.3" y2="1224.2" stroke="#8e9197" stroke-width="2"/>
<rect x="73.5" y="1056.2" width="121.8" height="168.0" fill="#191b27"/>
<text x="134.5" y="1040.5" font-size="25.5" fill="#15171f" text-anchor="middle" letter-spacing="0.5">1 239</text>
<rect x="203.5" y="1058.3" width="121.8" height="165.9" fill="#191b27"/>
<text x="264.5" y="1042.6" font-size="25.5" fill="#15171f" text-anchor="middle" letter-spacing="0.5">1 224</text>
<rect x="333.5" y="1060.3" width="121.8" height="163.9" fill="#191b27"/>
<text x="394.5" y="1044.6" font-size="25.5" fill="#15171f" text-anchor="middle" letter-spacing="0.5">1 209</text>
<rect x="463.5" y="1057.6" width="121.8" height="166.6" fill="#191b27"/>
<text x="524.5" y="1041.9" font-size="25.5" fill="#15171f" text-anchor="middle" letter-spacing="0.5">1 229</text>
<rect x="593.5" y="1058.0" width="121.8" height="166.2" fill="#191b27"/>
<text x="654.5" y="1042.3" font-size="25.5" fill="#15171f" text-anchor="middle" letter-spacing="0.5">1 226</text>
<rect x="723.5" y="1058.7" width="121.8" height="165.5" fill="#191b27"/>
<text x="784.5" y="1043.0" font-size="25.5" fill="#15171f" text-anchor="middle" letter-spacing="0.5">1 221</text>
<rect x="853.5" y="1059.2" width="121.8" height="165.0" fill="#191b27"/>
<text x="914.5" y="1043.5" font-size="25.5" fill="#15171f" text-anchor="middle" letter-spacing="0.5">1 217</text>
<text x="43.5" y="1254.7" font-size="23.8" fill="#111" letter-spacing="-0.6">НОЯ</text>
<text x="264.5" y="1254.9" font-size="23.8" fill="#c9524b" text-anchor="middle">28</text>
<text x="394.5" y="1254.9" font-size="23.8" fill="#111" text-anchor="middle">29</text>
<text x="524.5" y="1254.9" font-size="23.8" fill="#111" text-anchor="middle">30</text>
<text x="653.2" y="1254.9" font-size="23.8" fill="#111" text-anchor="middle">1</text>
<text x="784.5" y="1254.9" font-size="23.8" fill="#111" text-anchor="middle">2</text>
<text x="914.5" y="1254.9" font-size="23.8" fill="#111" text-anchor="middle">3</text>
<text x="1005.5" y="1254.9" font-size="23.8" fill="#111" text-anchor="end" letter-spacing="-0.2">ДЕК</text>
</svg></body></html>
